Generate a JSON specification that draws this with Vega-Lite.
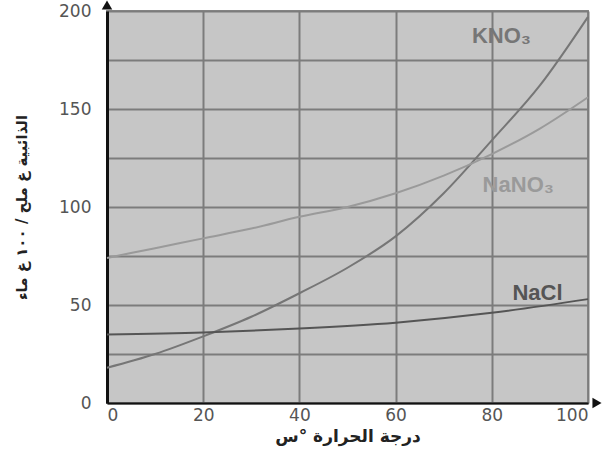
{
  "$schema": "https://vega.github.io/schema/vega-lite/v6.json",
  "autosize": {"type": "none"},
  "width": 481,
  "height": 392,
  "padding": {"left": 107, "top": 11, "right": 19, "bottom": 54},
  "background": "white",
  "config": {
    "view": {"fill": "#c6c6c6", "stroke": "#8a8a8a", "strokeWidth": 2},
    "font": "Liberation Sans"
  },
  "datasets": {
    "curves": [
      {"salt": "KNO3", "t": 0, "s": 18},
      {"salt": "KNO3", "t": 10, "s": 25},
      {"salt": "KNO3", "t": 20, "s": 34},
      {"salt": "KNO3", "t": 30, "s": 44},
      {"salt": "KNO3", "t": 40, "s": 56},
      {"salt": "KNO3", "t": 50, "s": 69},
      {"salt": "KNO3", "t": 60, "s": 85},
      {"salt": "KNO3", "t": 70, "s": 107},
      {"salt": "KNO3", "t": 80, "s": 134},
      {"salt": "KNO3", "t": 90, "s": 162},
      {"salt": "KNO3", "t": 100, "s": 197},
      {"salt": "NaNO3", "t": 0, "s": 74},
      {"salt": "NaNO3", "t": 10, "s": 79},
      {"salt": "NaNO3", "t": 20, "s": 84},
      {"salt": "NaNO3", "t": 30, "s": 89},
      {"salt": "NaNO3", "t": 40, "s": 95},
      {"salt": "NaNO3", "t": 50, "s": 100},
      {"salt": "NaNO3", "t": 60, "s": 107},
      {"salt": "NaNO3", "t": 70, "s": 116},
      {"salt": "NaNO3", "t": 80, "s": 127},
      {"salt": "NaNO3", "t": 90, "s": 140},
      {"salt": "NaNO3", "t": 100, "s": 156},
      {"salt": "NaCl", "t": 0, "s": 35},
      {"salt": "NaCl", "t": 20, "s": 36},
      {"salt": "NaCl", "t": 40, "s": 38},
      {"salt": "NaCl", "t": 60, "s": 41},
      {"salt": "NaCl", "t": 80, "s": 46},
      {"salt": "NaCl", "t": 100, "s": 53}
    ],
    "labels": [
      {"salt": "KNO3", "text": "KNO₃", "t": 82, "s": 187},
      {"salt": "NaNO3", "text": "NaNO₃", "t": 85.5, "s": 111},
      {"salt": "NaCl", "text": "NaCl", "t": 89.5, "s": 56}
    ],
    "one": [{"k": 1}]
  },
  "layer": [
    {
      "data": {"name": "curves"},
      "mark": {"type": "line", "interpolate": "monotone", "strokeWidth": 2},
      "encoding": {
        "x": {
          "field": "t", "type": "quantitative",
          "scale": {"domain": [0, 100], "nice": false},
          "axis": {
            "values": [0, 20, 40, 60, 80, 100],
            "title": "درجة الحرارة °س",
            "titleFont": "DejaVu Sans", "titleFontWeight": "bold", "titleFontSize": 17, "titleColor": "#222",
            "titlePadding": 5,
            "labelFont": "DejaVu Sans", "labelFontSize": 17, "labelColor": "#555", "labelPadding": 4,
            "ticks": false,
            "domainColor": "#111", "domainWidth": 2,
            "grid": true, "gridColor": "#7c7c7c", "gridWidth": 2
          }
        },
        "y": {
          "field": "s", "type": "quantitative",
          "scale": {"domain": [0, 200], "nice": false},
          "axis": {
            "values": [0, 25, 50, 75, 100, 125, 150, 175, 200],
            "labelExpr": "datum.value % 50 == 0 ? datum.label : ''",
            "title": "الذائبية غ ملح / ١٠٠ غ ماء",
            "titleFont": "DejaVu Sans", "titleFontWeight": "bold", "titleFontSize": 15, "titleColor": "#222",
            "titlePadding": 29,
            "labelFont": "DejaVu Sans", "labelFontSize": 17, "labelColor": "#555", "labelPadding": 16,
            "ticks": false,
            "domainColor": "#111", "domainWidth": 3,
            "grid": true, "gridColor": "#7c7c7c", "gridWidth": 2
          }
        },
        "color": {
          "field": "salt", "type": "nominal",
          "scale": {"domain": ["KNO3", "NaNO3", "NaCl"], "range": ["#767676", "#9a9a9a", "#555555"]},
          "legend": null
        }
      }
    },
    {
      "data": {"name": "labels"},
      "mark": {"type": "text", "fontSize": 22, "fontWeight": "bold", "font": "Liberation Sans"},
      "encoding": {
        "x": {"field": "t", "type": "quantitative"},
        "y": {"field": "s", "type": "quantitative"},
        "text": {"field": "text"},
        "color": {
          "field": "salt", "type": "nominal",
          "scale": {"domain": ["KNO3", "NaNO3", "NaCl"], "range": ["#828282", "#a0a0a0", "#555555"]},
          "legend": null
        }
      }
    },
    {
      "data": {"name": "one"},
      "mark": {"type": "point", "shape": "triangle-up", "filled": true, "color": "#111", "size": 110, "yOffset": -6, "opacity": 1, "clip": false},
      "encoding": {"x": {"datum": 0}, "y": {"datum": 200}}
    },
    {
      "data": {"name": "one"},
      "mark": {"type": "point", "shape": "triangle-right", "filled": true, "color": "#111", "size": 110, "xOffset": 9, "opacity": 1, "clip": false},
      "encoding": {"x": {"datum": 100}, "y": {"datum": 0}}
    }
  ]
}
